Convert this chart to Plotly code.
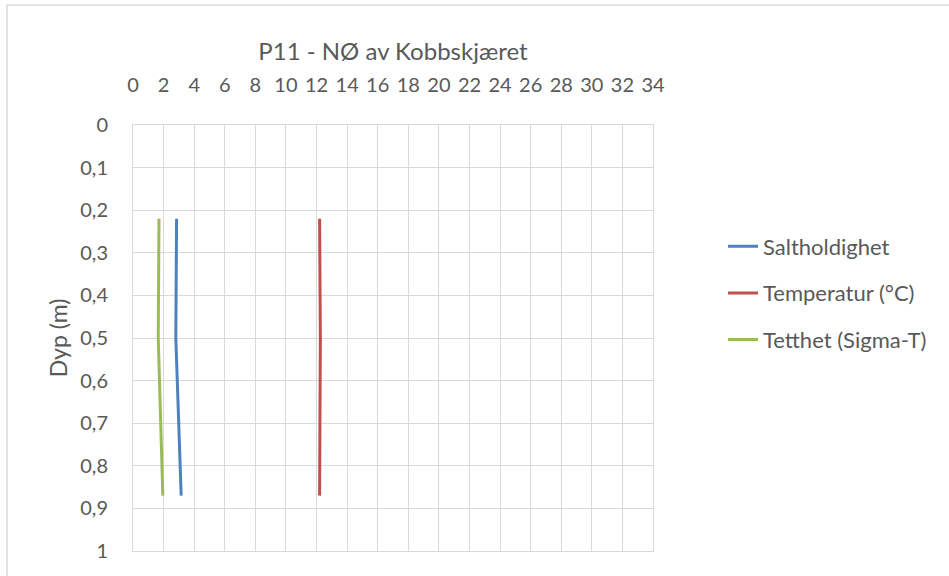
import plotly.graph_objects as go

depth = [0.22, 0.5, 0.87]
saltholdighet = [2.85, 2.8, 3.15]
temperatur = [12.2, 12.25, 12.2]
tetthet = [1.7, 1.65, 1.95]

series = [
    ("Saltholdighet", saltholdighet, "#4F81BD"),
    ("Temperatur (°C)", temperatur, "#C0504D"),
    ("Tetthet (Sigma-T)", tetthet, "#9BBB59"),
]

x_ticks = list(range(0, 35, 2))
y_ticks = [0, 0.1, 0.2, 0.3, 0.4, 0.5, 0.6, 0.7, 0.8, 0.9, 1]
y_labels = ["0", "0,1", "0,2", "0,3", "0,4", "0,5", "0,6", "0,7", "0,8", "0,9", "1"]

fig = go.Figure()
for i, (name, vals, col) in enumerate(series):
    fig.add_trace(go.Scatter(x=vals, y=depth, mode="lines", name=name,
                             legendgroup=str(i),
                             line=dict(color=col, width=3)))

font = "Lato, 'Open Sans', sans-serif"
grid = "#D9D9D9"
W, H = 949, 576
L, R, T, B = 133, 296, 125, 25
pw, ph = W - L - R, H - T - B

fig.update_layout(
    width=W, height=H,
    margin=dict(l=L, r=R, t=T, b=B),
    paper_bgcolor="white", plot_bgcolor="white",
    font=dict(family=font, color="#595959", size=20),
    separators=", ",
    title=dict(text="P11 - NØ av Kobbskjæret", x=(L + pw / 2) / W, xanchor="center",
               y=1 - 52 / H, yanchor="middle", font=dict(size=24, color="#595959")),
    xaxis=dict(range=[0, 34], side="top", tickvals=x_ticks, ticks="",
               showgrid=True, gridcolor=grid, gridwidth=1,
               showline=True, linecolor=grid, mirror=True, zeroline=False,
               ticklabelstandoff=24, tickfont=dict(size=20)),
    yaxis=dict(range=[1, 0], tickvals=y_ticks, ticktext=y_labels, ticks="",
               showgrid=True, gridcolor=grid, gridwidth=1,
               showline=True, linecolor=grid, mirror=True, zeroline=False,
               ticklabelstandoff=20, tickfont=dict(size=20),
               title=dict(text="Dyp (m)", font=dict(size=23), standoff=6)),
    legend=dict(x=(723 - L) / pw, xanchor="left", y=(H - B - 293) / ph, yanchor="middle",
                font=dict(size=22, color="#595959"), tracegroupgap=15,
                bgcolor="rgba(0,0,0,0)"),
    showlegend=True,
)

# outer chart border (left and top edges visible)
x_left = (7 - L) / pw
y_top = (H - B - 5) / ph
fig.add_shape(type="line", xref="paper", yref="paper", x0=x_left, x1=x_left,
              y0=-0.2, y1=y_top, line=dict(color="#D9D9D9", width=1.5))
fig.add_shape(type="line", xref="paper", yref="paper", x0=x_left, x1=2,
              y0=y_top, y1=y_top, line=dict(color="#D9D9D9", width=1.5))

fig.write_html("out.html", config={"displayModeBar": False},
               post_script="document.body.style.margin='0px';")
